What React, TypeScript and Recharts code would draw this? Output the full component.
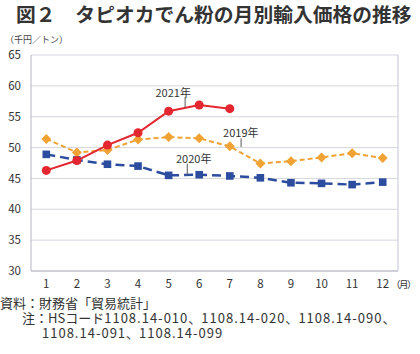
import {
  CartesianGrid,
  Line,
  LineChart,
  ReferenceDot,
  ReferenceLine,
  XAxis,
  YAxis,
} from "recharts";

const months = [1, 2, 3, 4, 5, 6, 7, 8, 9, 10, 11, 12];
const y2019 = [51.4, 49.2, 49.6, 51.3, 51.7, 51.5, 50.2, 47.4, 47.8, 48.4, 49.1, 48.3];
const y2020 = [48.9, 48.0, 47.3, 47.0, 45.5, 45.6, 45.4, 45.1, 44.3, 44.2, 44.0, 44.4];
const y2021 = [46.3, 47.9, 50.4, 52.4, 55.9, 56.9, 56.3];
const yTicks = [30, 35, 40, 45, 50, 55, 60, 65];

// series labels with leader lines, in data coordinates
const notes = [
  { text: "2021年", x: 5.15, y: 58.8, lx: 5.54, ly1: 58.2, ly2: 56.5 },
  { text: "2019年", x: 7.36, y: 52.3, lx: 7.37, ly1: 51.5, ly2: 50.1 },
  { text: "2020年", x: 5.82, y: 48.2, lx: 5.61, ly1: 47.4, ly2: 45.6 },
];

const RED = "#e3262f";
const ORANGE = "#f0a234";
const BLUE = "#2c4c9f";
const FONT = '"Noto Sans CJK JP", "Noto Sans", sans-serif';

const data = months.map((m, i) => ({
  m,
  y2019: y2019[i],
  y2020: y2020[i],
  y2021: i < y2021.length ? y2021[i] : null,
}));

const diamond = (props: any) => {
  const { cx, cy, index } = props;
  const s = 5;
  return (
    <path
      key={`d${index}`}
      d={`M${cx},${cy - s}L${cx + s},${cy}L${cx},${cy + s}L${cx - s},${cy}Z`}
      fill={ORANGE}
    />
  );
};

const square = (props: any) => {
  const { cx, cy, index } = props;
  return <rect key={`s${index}`} x={cx - 3.8} y={cy - 3.8} width={7.6} height={7.6} fill={BLUE} />;
};

const num = { letterSpacing: 1 };

export default function App() {
  return (
    <div style={{ position: "relative", width: 420, height: 354, fontFamily: FONT, color: "#333" }}>
      <style>{`body{margin:0}`}</style>
      <div
        style={{
          position: "absolute",
          left: 16,
          top: 1,
          fontSize: 19.8,
          fontWeight: 700,
          color: "#333",
          whiteSpace: "nowrap",
          lineHeight: "26px",
        }}
      >
        図２　タピオカでん粉の月別輸入価格の推移
      </div>
      <div style={{ position: "absolute", left: 5, top: 33, fontSize: 9, lineHeight: "14px", color: "#444" }}>
        （千円／トン）
      </div>
      <LineChart
        width={420}
        height={354}
        data={data}
        margin={{ top: 55, right: 0, bottom: 53, left: 0 }}
        style={{ position: "absolute", left: 0, top: 0 }}
      >
        <CartesianGrid stroke="#d6d6de" vertical={false} />
        <XAxis
          dataKey="m"
          type="number"
          domain={[0.5, 12.5]}
          ticks={months}
          tickSize={0}
          tickMargin={9}
          height={30}
          stroke="#b4b4c0"
          tick={{ fill: "#333", fontSize: 11.5, fontFamily: FONT }}
          label={{
            value: "（月）",
            position: "right",
            offset: -7,
            fontSize: 9.5,
            letterSpacing: -1.5,
            fill: "#333",
            fontFamily: FONT,
            dy: -1,
          }}
        />
        <YAxis
          domain={[30, 65]}
          ticks={yTicks}
          width={31}
          tickSize={0}
          tickMargin={10}
          stroke="#b4b4c0"
          tick={{ fill: "#333", fontSize: 11.5, fontFamily: FONT }}
        />
        <YAxis yAxisId="r" orientation="right" width={22} tick={false} tickLine={false} stroke="#c6c6dc" />
        <Line
          dataKey="y2020"
          stroke={BLUE}
          strokeWidth={2.5}
          strokeDasharray="9 5"
          dot={square}
          activeDot={false}
          isAnimationActive={false}
        />
        <Line
          dataKey="y2019"
          stroke={ORANGE}
          strokeWidth={2}
          strokeDasharray="5 3"
          dot={diamond}
          activeDot={false}
          isAnimationActive={false}
        />
        <Line
          dataKey="y2021"
          stroke={RED}
          strokeWidth={2}
          dot={{ r: 4.5, fill: RED, stroke: RED, strokeWidth: 0 }}
          activeDot={false}
          connectNulls={false}
          isAnimationActive={false}
        />
        {notes.map((n) => (
          <ReferenceLine
            key={`l${n.text}`}
            segment={[
              { x: n.lx, y: n.ly1 },
              { x: n.lx, y: n.ly2 },
            ]}
            stroke="#555"
            strokeWidth={1}
          />
        ))}
        {notes.map((n) => (
          <ReferenceDot
            key={`t${n.text}`}
            x={n.x}
            y={n.y}
            r={0}
            stroke="none"
            fill="none"
            label={{ value: n.text, position: "center", fontSize: 11, fill: "#333", fontFamily: FONT }}
          />
        ))}
      </LineChart>
      <div style={{ position: "absolute", left: 0, top: 295, fontSize: 13, lineHeight: "15px", color: "#333", whiteSpace: "nowrap" }}>
        <div>資料：財務省「貿易統計」</div>
        <div style={{ paddingLeft: 22 }}>
          注：HSコード<span style={num}>1108.14-010</span>、<span style={num}>1108.14-020</span>、
          <span style={num}>1108.14-090</span>、
        </div>
        <div style={{ paddingLeft: 42 }}>
          <span style={num}>1108.14-091</span>、<span style={num}>1108.14-099</span>
        </div>
      </div>
    </div>
  );
}
